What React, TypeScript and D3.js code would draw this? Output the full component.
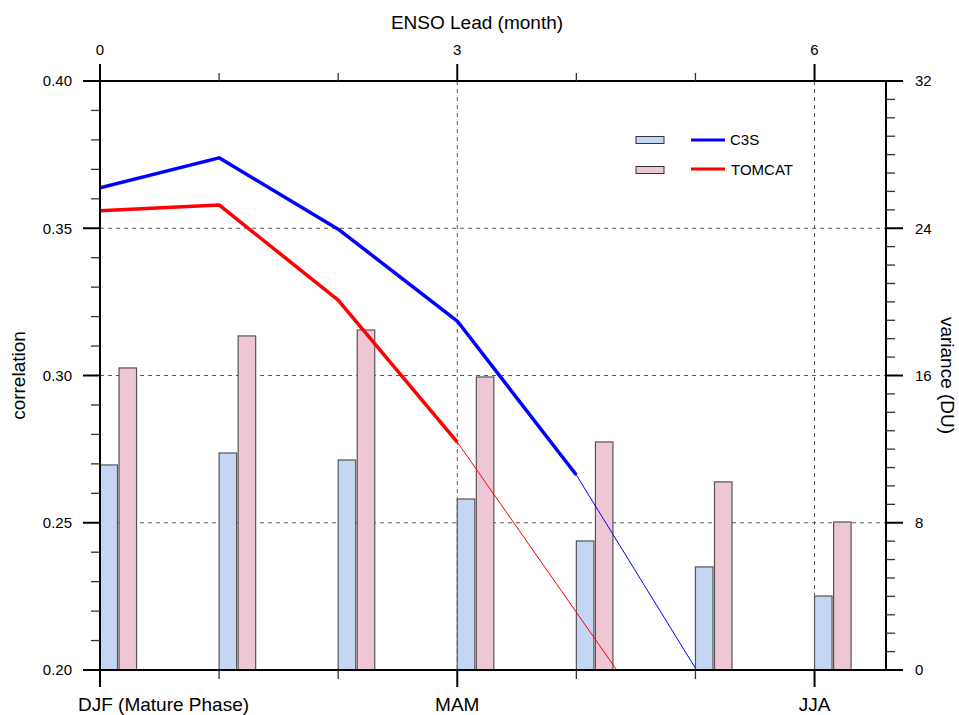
import * as d3 from 'd3';

const leads = [0, 1, 2, 3, 4, 5, 6];
const seasonTicks = [0, 3, 6];
const seasonLabels = ['DJF (Mature Phase)', 'MAM', 'JJA'];

// variance (DU), right axis
const c3sVar = [11.14, 11.79, 11.41, 9.29, 7.01, 5.6, 4.02];
const tomcatVar = [16.41, 18.15, 18.47, 15.92, 12.39, 10.22, 8.04];

// correlation, left axis; thick part = first n points
const c3sCorr = [0.3637, 0.3739, 0.3497, 0.3185, 0.2662, 0.2006];
const tomcatCorr = [0.3559, 0.3579, 0.3256, 0.2774, 0.2196, 0.1618];
const c3sThick = 5;
const tomcatThick = 4;

const corrTicks = [0.2, 0.25, 0.3, 0.35, 0.4];
const varTicks = [0, 8, 16, 24, 32];

const W = 959;
const H = 715;
const m = { left: 100, right: 886, top: 81, bottom: 670 };
const font = '"Liberation Sans", Arial, Helvetica, sans-serif';

export default function App() {
  const x = d3.scaleLinear().domain([0, 6.6]).range([m.left, m.right]);
  const yc = d3.scaleLinear().domain([0.2, 0.4]).range([m.bottom, m.top]);
  const yv = d3.scaleLinear().domain([0, 32]).range([m.bottom, m.top]);

  const line = d3.line<number>().x((_, i) => x(leads[i])).y(d => yc(d));

  const minorMonths = leads.filter(v => !seasonTicks.includes(v));
  const corrMinor = d3.range(0.2, 0.4001, 0.01).filter(v => !corrTicks.some(t => Math.abs(t - v) < 1e-6));
  const varMinor = d3.range(0, 33, 1).filter(v => v % 8 !== 0);

  const blueFill = '#c5d5f4';
  const pinkFill = '#efc6d3';
  const barW = 0.147;
  const pinkOff = 0.16;

  return (
    <svg width={W} height={H} style={{ position: 'absolute', left: 0, top: 0, fontFamily: font }}>
      <defs>
        <clipPath id="plot">
          <rect x={m.left} y={m.top} width={m.right - m.left} height={m.bottom - m.top} />
        </clipPath>
      </defs>
      <rect width={W} height={H} fill="white" />

      {/* grid */}
      {[0.25, 0.3, 0.35].map(v => (
        <line key={v} x1={m.left} x2={m.right} y1={yc(v)} y2={yc(v)} stroke="#555" strokeDasharray="4,4" />
      ))}
      {[3, 6].map(v => (
        <line key={v} x1={x(v)} x2={x(v)} y1={m.top} y2={m.bottom} stroke="#555" strokeDasharray="4,4" />
      ))}

      {/* bars */}
      {leads.map((l, i) => (
        <g key={l}>
          <rect x={x(l)} y={yv(c3sVar[i])} width={x(barW) - x(0)} height={m.bottom - yv(c3sVar[i])}
            fill={blueFill} stroke="#555" strokeWidth={1.2} />
          <rect x={x(l + pinkOff)} y={yv(tomcatVar[i])} width={x(barW) - x(0)} height={m.bottom - yv(tomcatVar[i])}
            fill={pinkFill} stroke="#555" strokeWidth={1.2} />
        </g>
      ))}

      {/* lines */}
      <g clipPath="url(#plot)" fill="none" strokeLinejoin="round">
        <path d={line(c3sCorr.slice(0, c3sThick)) ?? ''} stroke="#0000ff" strokeWidth={3.5} />
        <path d={line(c3sCorr.slice(c3sThick - 1)) ?? ''} stroke="#0000ff" strokeWidth={1}
          transform={`translate(${x(c3sThick - 1) - x(0)},0)`} />
        <path d={line(tomcatCorr.slice(0, tomcatThick)) ?? ''} stroke="#ff0000" strokeWidth={3.5} />
        <path d={line(tomcatCorr.slice(tomcatThick - 1)) ?? ''} stroke="#ff0000" strokeWidth={1}
          transform={`translate(${x(tomcatThick - 1) - x(0)},0)`} />
      </g>

      {/* frame */}
      <rect x={m.left} y={m.top} width={m.right - m.left} height={m.bottom - m.top} fill="none" stroke="black" strokeWidth={2} />

      {/* top / bottom ticks */}
      {seasonTicks.map(v => (
        <g key={v}>
          <line x1={x(v)} x2={x(v)} y1={m.top} y2={m.top - 17} stroke="black" strokeWidth={2} />
          <line x1={x(v)} x2={x(v)} y1={m.bottom} y2={m.bottom + 17} stroke="black" strokeWidth={2} />
          <text x={x(v)} y={55} textAnchor="middle" fontSize={15}>{v}</text>
        </g>
      ))}
      {minorMonths.map(v => (
        <g key={v}>
          <line x1={x(v)} x2={x(v)} y1={m.top} y2={m.top - 8} stroke="#333" strokeWidth={1.3} />
          <line x1={x(v)} x2={x(v)} y1={m.bottom} y2={m.bottom + 9} stroke="#333" strokeWidth={1.3} />
        </g>
      ))}
      <text x={477} y={29} textAnchor="middle" fontSize={19}>ENSO Lead (month)</text>
      {seasonTicks.map((v, i) => (
        <text key={v} x={i === 0 ? 78 : x(v)} y={711} textAnchor={i === 0 ? 'start' : 'middle'} fontSize={19}>
          {seasonLabels[i]}
        </text>
      ))}

      {/* left axis */}
      {corrTicks.map(v => (
        <g key={v}>
          <line x1={m.left - 17} x2={m.left} y1={yc(v)} y2={yc(v)} stroke="black" strokeWidth={2} />
          <text x={72} y={yc(v)} dy="0.35em" textAnchor="end" fontSize={15}>{v.toFixed(2)}</text>
        </g>
      ))}
      {corrMinor.map(v => (
        <line key={v} x1={m.left - 9} x2={m.left} y1={yc(v)} y2={yc(v)} stroke="#333" strokeWidth={1.3} />
      ))}
      <text transform={`translate(25,${(m.top + m.bottom) / 2}) rotate(-90)`} textAnchor="middle" fontSize={19}>correlation</text>

      {/* right axis */}
      {varTicks.map(v => (
        <g key={v}>
          <line x1={m.right} x2={m.right + 17} y1={yv(v)} y2={yv(v)} stroke="black" strokeWidth={2} />
          <text x={915} y={yv(v)} dy="0.35em" textAnchor="start" fontSize={15}>{v}</text>
        </g>
      ))}
      {varMinor.map(v => (
        <line key={v} x1={m.right} x2={m.right + 9} y1={yv(v)} y2={yv(v)} stroke="#333" strokeWidth={1.3} />
      ))}
      <text transform={`translate(941,${(m.top + m.bottom) / 2}) rotate(90)`} textAnchor="middle" fontSize={19}>variance (DU)</text>

      {/* legend */}
      <rect x={636} y={136.5} width={28} height={7} fill={blueFill} stroke="#333" strokeWidth={1} />
      <rect x={636} y={166.5} width={28} height={7} fill={pinkFill} stroke="#333" strokeWidth={1} />
      <line x1={691} x2={725} y1={140} y2={140} stroke="#0000ff" strokeWidth={3} />
      <line x1={691} x2={725} y1={169} y2={169} stroke="#ff0000" strokeWidth={3} />
      <text x={730} y={145} fontSize={15}>C3S</text>
      <text x={731} y={175} fontSize={15}>TOMCAT</text>
    </svg>
  );
}
